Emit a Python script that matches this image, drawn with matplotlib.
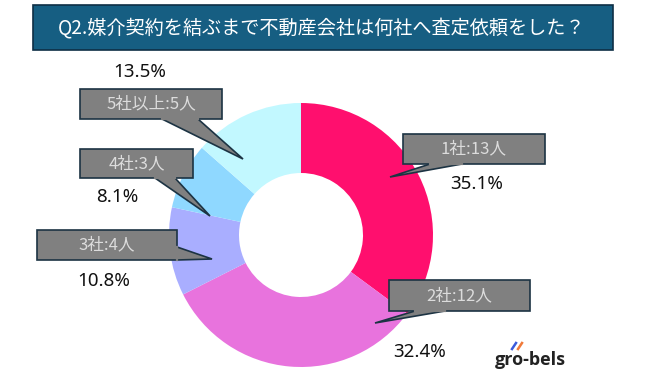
import matplotlib.pyplot as plt
from matplotlib.patches import Rectangle, Polygon

plt.rcParams['font.family'] = ['Noto Sans CJK JP', 'DejaVu Sans']

# data
labels = ["1社:13人", "2社:12人", "3社:4人", "4社:3人", "5社以上:5人"]
counts = [13, 12, 4, 3, 5]
pcts = ["35.1%", "32.4%", "10.8%", "8.1%", "13.5%"]
colors = ["#FF0F6E", "#E873DD", "#A9AEFF", "#8FD8FF", "#C2F8FF"]

W, H = 650, 386


def py(y):
    # pixel row (top-down) to data y
    return H - y


fig = plt.figure(figsize=(6.5, 3.86), dpi=100)
ax = fig.add_axes([0, 0, 1, 1])
ax.axis('off')

# title bar
ax.add_patch(Rectangle((33, py(50)), 580, 45, facecolor="#165E82",
                       edgecolor="#0E2F45", lw=1.2))
ax.text(322, py(28), "Q2.媒介契約を結ぶまで不動産会社は何社へ査定依頼をした？",
        color="white", fontsize=13.8, ha="center", va="center")

# donut
ax.pie(counts, colors=colors, startangle=90, counterclock=False,
       center=(301, py(235)), radius=132,
       wedgeprops=dict(width=70, edgecolor="none"))
ax.set_xlim(0, W)
ax.set_ylim(0, H)
ax.set_aspect('auto')

# callouts: box (x0, y0, x1, y1), pointer base a, b and tip, all in pixels
callouts = [
    ((403, 134, 545, 164), (462, 164), (430, 164), (390, 177)),
    ((389, 280, 530, 311), (445, 311), (415, 311), (375, 323)),
    ((37, 230, 177, 260), (177, 247), (177, 260), (212, 259)),
    ((80, 149, 193, 178), (155, 178), (175, 178), (210, 216)),
    ((80, 89, 222, 119), (162, 119), (198, 119), (243, 159)),
]
for lab, (box, a, b, tip) in zip(labels, callouts):
    x0, y0, x1, y1 = box
    ax.add_patch(Rectangle((x0, py(y1)), x1 - x0, y1 - y0,
                           facecolor="#808080", edgecolor="#1C3343", lw=1.2))
    ax.add_patch(Polygon([(a[0], py(a[1])), (tip[0], py(tip[1])), (b[0], py(b[1]))],
                         closed=True, facecolor="#808080", edgecolor="#1C3343", lw=1.2))
    # hide the border line under the pointer base
    ax.plot([a[0], b[0]], [py(a[1]), py(b[1])], color="#808080", lw=1.6)
    ax.text((x0 + x1) / 2, py((y0 + y1) / 2), lab, color="#DCDCDC",
            fontsize=12, ha="center", va="center")

# percentages
pct_pos = [(477, 184), (420, 352), (104, 281), (117, 197), (140, 72)]
for p, (x, y) in zip(pcts, pct_pos):
    ax.text(x, py(y), p, color="#111111", fontsize=13.5, ha="center", va="center",
            family="Noto Sans")

# logo
ax.text(530, py(360), "gro-bels", color="#222222", fontsize=13, fontweight="bold",
        ha="center", va="center", family="Open Sans")
ax.plot([512, 516], [py(349), py(343)], color="#3B5BDB", lw=1.8)
ax.plot([518, 522], [py(349), py(343)], color="#F07A3A", lw=1.8)

fig.savefig("out.png", dpi=100)
